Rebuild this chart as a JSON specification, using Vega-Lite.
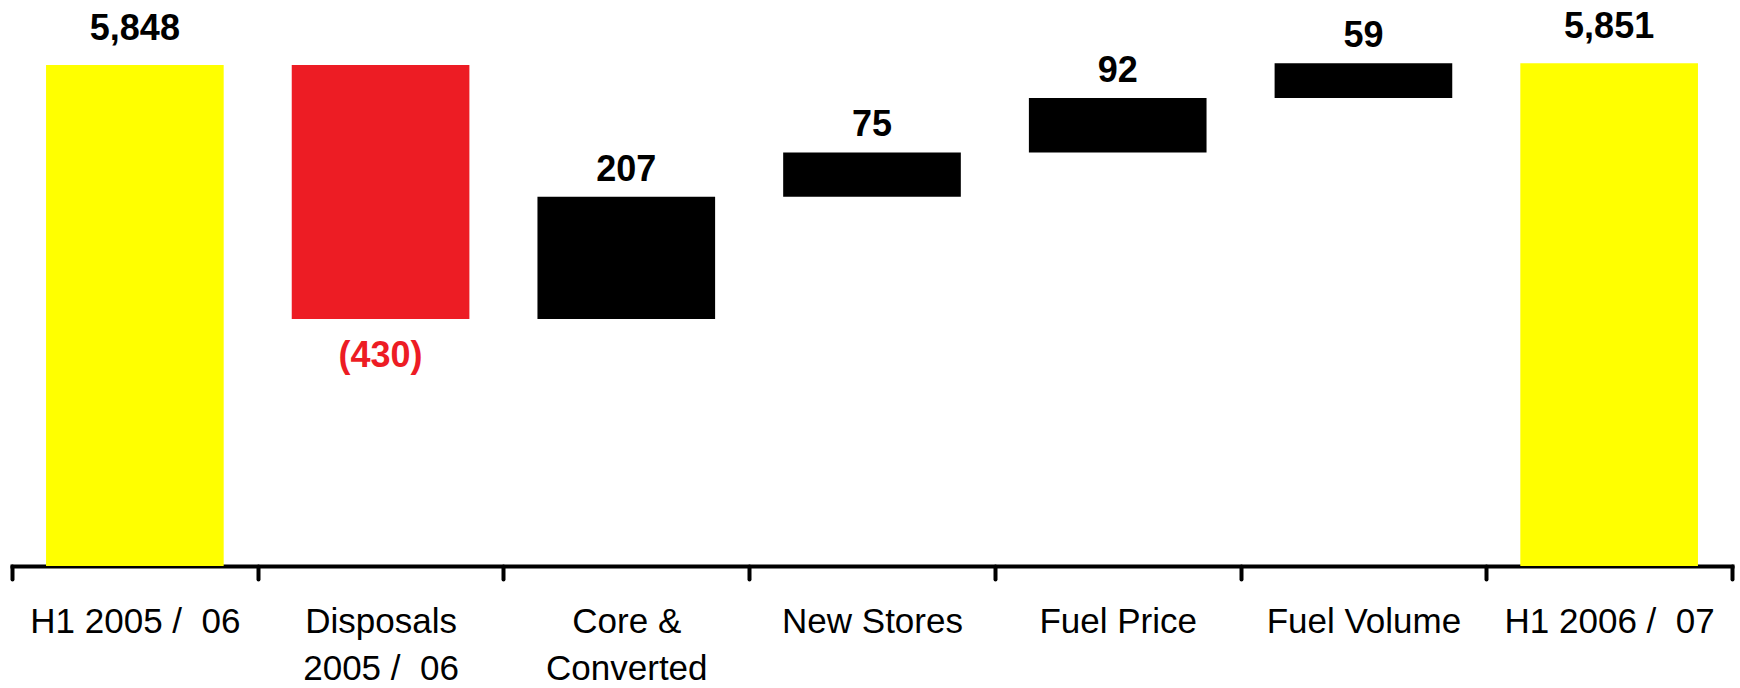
{
  "$schema": "https://vega.github.io/schema/vega-lite/v6.json",
  "autosize": {"type": "none"},
  "width": 1720,
  "height": 566,
  "padding": {"left": 12, "top": 0, "right": 8, "bottom": 122},
  "background": "white",
  "config": {
    "view": {"stroke": null},
    "font": "Liberation Sans"
  },
  "data": {
    "values": [
      {"step": "H1 2005 /\u00a0 06", "kind": "total", "start": 5000, "end": 5848, "change": 5848},
      {"step": "Disposals\n2005 /\u00a0 06", "kind": "decrease", "start": 5848, "end": 5418, "change": -430},
      {"step": "Core &\nConverted", "kind": "increase", "start": 5418, "end": 5625, "change": 207},
      {"step": "New Stores", "kind": "increase", "start": 5625, "end": 5700, "change": 75},
      {"step": "Fuel Price", "kind": "increase", "start": 5700, "end": 5792, "change": 92},
      {"step": "Fuel Volume", "kind": "increase", "start": 5792, "end": 5851, "change": 59},
      {"step": "H1 2006 /\u00a0 07", "kind": "total", "start": 5000, "end": 5851, "change": 5851}
    ]
  },
  "encoding": {
    "x": {
      "field": "step",
      "type": "nominal",
      "sort": null,
      "scale": {"paddingInner": 0, "paddingOuter": 0},
      "axis": {
        "title": null,
        "labelAngle": 0,
        "labelExpr": "split(datum.label, '\\n')",
        "labelFont": "Liberation Sans",
        "labelFontSize": 35,
        "labelColor": "#000000",
        "labelLineHeight": 47,
        "labelPadding": 25,
        "labelLimit": 0,
        "domainColor": "#000000",
        "domainWidth": 4,
        "domainCap": "square",
        "tickColor": "#000000",
        "tickWidth": 4,
        "tickSize": 13,
        "tickBand": "extent",
        "tickCap": "round",
        "grid": false
      }
    },
    "y": {
      "type": "quantitative",
      "scale": {"domain": [5000, 5958], "nice": false, "zero": false},
      "axis": null
    }
  },
  "layer": [
    {
      "mark": {"type": "bar", "width": {"band": 0.723}},
      "encoding": {
        "y": {"field": "end", "type": "quantitative"},
        "y2": {"field": "start"},
        "color": {
          "field": "kind",
          "type": "nominal",
          "scale": {"domain": ["total", "decrease", "increase"], "range": ["#FFFF00", "#ED1C24", "#000000"]},
          "legend": null
        }
      }
    },
    {
      "transform": [{"filter": "datum.kind == 'total'"}],
      "mark": {"type": "text", "font": "Liberation Sans", "fontWeight": "bold", "fontSize": 36, "baseline": "alphabetic", "dy": -25, "color": "#000000"},
      "encoding": {
        "y": {"field": "end", "type": "quantitative"},
        "text": {"field": "change", "type": "quantitative", "format": ",d"}
      }
    },
    {
      "transform": [{"filter": "datum.kind == 'increase'"}],
      "mark": {"type": "text", "font": "Liberation Sans", "fontWeight": "bold", "fontSize": 36, "baseline": "alphabetic", "dy": -16, "color": "#000000"},
      "encoding": {
        "y": {"field": "end", "type": "quantitative"},
        "text": {"field": "change", "type": "quantitative", "format": ",d"}
      }
    },
    {
      "transform": [{"filter": "datum.kind == 'decrease'"}],
      "mark": {"type": "text", "font": "Liberation Sans", "fontWeight": "bold", "fontSize": 36, "baseline": "alphabetic", "dy": 48, "color": "#ED1C24"},
      "encoding": {
        "y": {"field": "end", "type": "quantitative"},
        "text": {"field": "change", "type": "quantitative", "format": "(,d"}
      }
    }
  ]
}
